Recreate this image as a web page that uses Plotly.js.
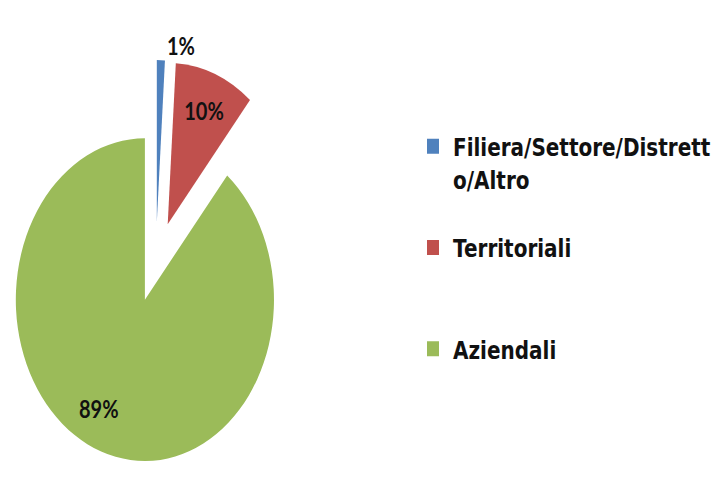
<!DOCTYPE html>
<html><head><meta charset="utf-8">
<script src="https://cdn.plot.ly/plotly-3.0.1.min.js"></script>
<style>
html,body{margin:0;padding:0;overflow:hidden;background:#fff;width:716px;height:483px}
#chart{position:absolute;left:-10px;top:0;width:726px;height:386px;transform:scaleY(1.25);transform-origin:0 0}
</style>
</head><body><div id="chart"></div>
<script>
// Data
const categories = ["Filiera/Settore/Distrett<br>o/Altro", "Territoriali", "Aziendali"];
const values = [1, 10, 89];
const colors = ["#4F81BD", "#C0504D", "#9BBB59"];

// extra blank lines only to space the legend entries like the original
const legendPad = ["<br>\u00a0", "<br>\u00a0<br>\u00a0", ""];
const labels = categories.map((c, i) => c + legendPad[i]);

// label templates; padding on the big slice only nudges where its label sits
const nb = "\u00a0";
const textTemplates = [
  "%{percent:.0%}",
  "%{percent:.0%}",
  nb + "<br>" + nb + "<br>%{percent:.0%}" + nb.repeat(10)
];

const trace = {
  type: "pie",
  labels: labels,
  values: values,
  sort: false,
  direction: "clockwise",
  rotation: 0,
  pull: [0.25, 0.25, 0.25],
  marker: {colors: colors, line: {width: 0}},
  texttemplate: textTemplates,
  textposition: ["outside", "inside", "inside"],
  insidetextorientation: "horizontal",
  textfont: {family: "Lato", size: 20, color: "#111111", weight: 700},
  outsidetextfont: {family: "Lato", size: 20, color: "#111111", weight: 700},
  hoverinfo: "none",
  domain: {x: [0.0062, 0.4538], y: [0.0365, 0.8785]}
};

const layout = {
  width: 726, height: 386,
  margin: {l: 0, r: 0, t: 0, b: 0},
  paper_bgcolor: "#ffffff",
  showlegend: true,
  legend: {
    x: 0.5868, xanchor: "left", y: 0.7474, yanchor: "top",
    valign: "top",
    font: {family: "DejaVu Sans", size: 20, color: "#111111", weight: 700},
    bgcolor: "rgba(0,0,0,0)"
  }
};

Plotly.newPlot("chart", [trace], layout, {displayModeBar: false, staticPlot: true});
</script>
</body></html>
